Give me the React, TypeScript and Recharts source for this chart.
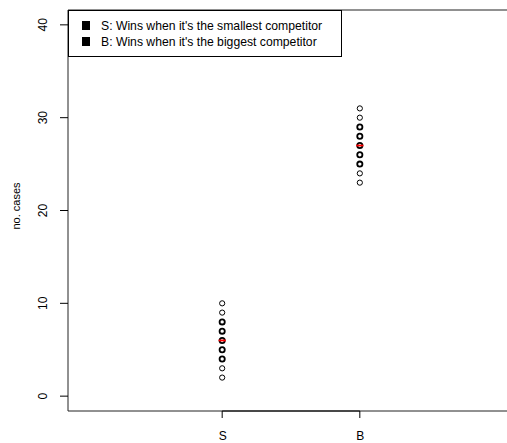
import {
    ScatterChart,
    Scatter,
    XAxis,
    YAxis,
    ReferenceArea,
    ReferenceLine,
} from "recharts";

// cases per group, duplicates overlap on the strip
const groups = ["S", "B"];
const sCases = [2, 3, 4, 4, 5, 5, 6, 6, 7, 7, 8, 8, 9, 10];
const bCases = [23, 24, 25, 25, 26, 26, 27, 27, 28, 28, 29, 29, 30, 31];
const medians = [6, 27];
const yTicks = [0, 10, 20, 30, 40];
const legendItems = [
    "S: Wins when it's the smallest competitor",
    "B: Wins when it's the biggest competitor",
];

const FONT = "'Liberation Sans', Arial, Helvetica, sans-serif";
const X_DOMAIN: [number, number] = [-0.12, 3.12];
const Y_DOMAIN: [number, number] = [-1.6, 41.6];

const toPoints = (values: number[], pos: number, median: number) => {
    const counts = new Map<number, number>();
    values.forEach((v) => counts.set(v, (counts.get(v) ?? 0) + 1));
    return Array.from(counts.entries()).map(([y, n]) => ({
        x: pos,
        y,
        n,
        med: y === median,
    }));
};

const sData = toPoints(sCases, 1, medians[0]);
const bData = toPoints(bCases, 2, medians[1]);

const Dot = (props: any) => {
    const { cx, cy, payload } = props;
    if (cx == null || cy == null) return null;
    const sw = payload.n > 1 ? 1.8 : 1;
    return (
        <g>
            <circle cx={cx} cy={cy} r={2.6} fill="none" stroke="#000" strokeWidth={sw} />
            {payload.med && (
                <line x1={cx - 3.6} x2={cx + 3.6} y1={cy} y2={cy} stroke="#ff0000" strokeWidth={1.8} />
            )}
        </g>
    );
};

const YTick = (props: any) => {
    const { y, payload } = props;
    return (
        <text
            x={47}
            y={y}
            transform={`rotate(-90, 47, ${y})`}
            textAnchor="middle"
            fontFamily={FONT}
            fontSize={12}
            fill="#000"
        >
            {payload.value}
        </text>
    );
};

const XTick = (props: any) => {
    const { x, payload } = props;
    return (
        <text x={x + 0.5} y={439.5} textAnchor="middle" fontFamily={FONT} fontSize={12} fill="#000">
            {groups[payload.value - 1]}
        </text>
    );
};

const App = () => {
    return (
        <div
            style={{
                position: "absolute",
                left: 0,
                top: 0,
                width: 507,
                height: 443,
                overflow: "hidden",
                background: "#fff",
            }}
        >
            <ScatterChart width={514} height={443} margin={{ top: 10, right: 0, bottom: 0, left: 0 }}>
                <XAxis
                    type="number"
                    dataKey="x"
                    domain={X_DOMAIN}
                    allowDataOverflow
                    ticks={[1, 2]}
                    height={32}
                    tickSize={7}
                    axisLine={false}
                    tickLine={{ stroke: "#000" }}
                    tick={<XTick />}
                />
                <YAxis
                    type="number"
                    dataKey="y"
                    domain={Y_DOMAIN}
                    allowDataOverflow
                    ticks={yTicks}
                    width={68}
                    tickSize={8}
                    axisLine={false}
                    tickLine={{ stroke: "#000" }}
                    tick={<YTick />}
                />
                <ReferenceArea
                    x1={X_DOMAIN[0]}
                    x2={X_DOMAIN[1]}
                    y1={Y_DOMAIN[0]}
                    y2={Y_DOMAIN[1]}
                    fill="none"
                    fillOpacity={0}
                    stroke="#222"
                    ifOverflow="visible"
                />
                <ReferenceLine
                    segment={[
                        { x: 1, y: Y_DOMAIN[0] },
                        { x: 2, y: Y_DOMAIN[0] },
                    ]}
                    stroke="#000"
                    ifOverflow="visible"
                />
                <Scatter data={sData} shape={<Dot />} isAnimationActive={false} />
                <Scatter data={bData} shape={<Dot />} isAnimationActive={false} />
            </ScatterChart>
            <svg
                width={30}
                height={443}
                style={{ position: "absolute", left: 0, top: 0 }}
            >
                <text
                    x={20}
                    y={206}
                    transform="rotate(-90, 20, 206)"
                    textAnchor="middle"
                    fontFamily={FONT}
                    fontSize={11}
                    fill="#000"
                >
                    no. cases
                </text>
            </svg>
            <div
                style={{
                    position: "absolute",
                    left: 68,
                    top: 10,
                    width: 274,
                    height: 47,
                    border: "1px solid #000",
                    boxSizing: "border-box",
                    fontFamily: FONT,
                    fontSize: 12.2,
                    padding: "6.5px 0 0 12.5px",
                }}
            >
                {legendItems.map((t) => (
                    <div key={t} style={{ display: "flex", alignItems: "center", height: 16 }}>
                        <span
                            style={{
                                display: "inline-block",
                                width: 8.5,
                                height: 8.5,
                                background: "#000",
                                marginRight: 11,
                                flexShrink: 0,
                            }}
                        />
                        <span style={{ whiteSpace: "nowrap" }}>{t}</span>
                    </div>
                ))}
            </div>
        </div>
    );
};

export default App;
